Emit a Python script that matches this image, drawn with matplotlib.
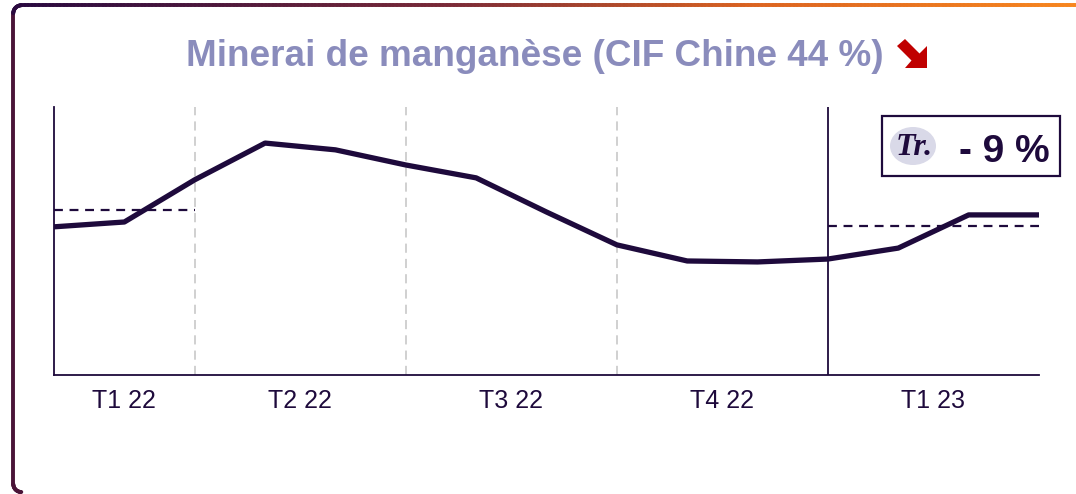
import numpy as np
import matplotlib
matplotlib.use("Agg")
import matplotlib.pyplot as plt
from matplotlib.collections import LineCollection
from matplotlib.colors import LinearSegmentedColormap
from matplotlib.patches import Rectangle, Ellipse, Polygon

plt.rcParams['font.family'] = ['Liberation Sans', 'DejaVu Sans']

# prix mensuels (USD/dmtu), janv. 22 -> mars 23
mois = ['J', 'F', 'M', 'A', 'M', 'J', 'J', 'A', 'S', 'O', 'N', 'D', 'J', 'F', 'M']
prix = [4.60, 4.75, 6.06, 7.20, 6.99, 6.52, 6.12, 5.06, 4.04, 3.54, 3.51, 3.60, 3.94, 4.97, 4.97]
trimestres = ['T1 22', 'T2 22', 'T3 22', 'T4 22', 'T1 23']
trim_centres = [1, 3.5, 6.5, 9.5, 12.5]
separations = [2, 5, 8]
titre = "Minerai de manganèse (CIF Chine 44 %)"
tendance = "- 9 %"

FONCE = '#1e0a3c'
W, H = 1076, 494

fig = plt.figure(figsize=(W / 100, H / 100), dpi=100)
ax = fig.add_axes([54 / W, 1 - 375 / H, (1039 - 54) / W, (375 - 107) / H])

x = np.arange(len(prix))
ax.plot(x, prix, color=FONCE, lw=3.8, solid_capstyle='round', solid_joinstyle='round', zorder=5)

# moyennes trimestrielles T1 22 et T1 23
moy_t1_22 = np.mean(prix[0:3])
moy_t1_23 = np.mean(prix[12:15])
ax.plot([0, 2], [moy_t1_22, moy_t1_22], color=FONCE, lw=1.6, ls=(0, (4, 3)), zorder=4)
ax.plot([11, 14], [moy_t1_23, moy_t1_23], color=FONCE, lw=1.6, ls=(0, (4, 3)), zorder=4)

for s in separations:
    ax.axvline(s, color='#c4c4c4', lw=1.1, ls=(0, (6, 4)), zorder=1)
ax.axvline(11, color=FONCE, lw=1.3, zorder=2)

ax.set_xlim(0, 14)
ax.set_ylim(0, 8.32)
ax.set_yticks([])
ax.set_xticks(trim_centres)
ax.set_xticklabels(trimestres, fontsize=18, color=FONCE)
ax.tick_params(axis='x', length=0, pad=10)
for side in ['top', 'right']:
    ax.spines[side].set_visible(False)
for side in ['left', 'bottom']:
    ax.spines[side].set_color(FONCE)
    ax.spines[side].set_linewidth(1.3)

# calque de décor en pixels
deco = fig.add_axes([0, 0, 1, 1], facecolor='none')
deco.set_xlim(0, W)
deco.set_ylim(H, 0)
deco.axis('off')

# cadre arrondi avec dégradé
r = 8
xl, yt, yb = 13.3, 5.3, 492
a_bas = np.linspace(np.pi / 2, np.pi, 20)
a_haut = np.linspace(np.pi, 1.5 * np.pi, 20)
bas = np.column_stack([xl + r + r * np.cos(a_bas), yb - r + r * np.sin(a_bas)])
haut = np.column_stack([xl + r + r * np.cos(a_haut), yt + r + r * np.sin(a_haut)])
fin = np.linspace(xl + r, W + 5, 300)[1:]
pts = np.vstack([bas, haut, np.column_stack([fin, np.full_like(fin, yt)])])
segs = np.stack([pts[:-1], pts[1:]], axis=1)
d = np.concatenate([[0], np.cumsum(np.hypot(*np.diff(pts, axis=0).T))])[:-1]
coin = d[len(bas) + len(haut) - 1]
val = np.where(d < coin, 0.08 * d / coin, 0.08 + 0.92 * (d - coin) / (d[-1] - coin))
cmap = LinearSegmentedColormap.from_list('cadre', [(0, '#4a1438'), (0.08, '#2a0a40'), (0.45, '#7a2a38'),
                                                   (0.72, '#dc6420'), (1, '#f7861f')])
lc = LineCollection(segs, array=val, cmap=cmap, lw=2.8, capstyle='round')
lc.set_clim(0, 1)
deco.add_collection(lc)

# titre et flèche
deco.text(535, 66, titre, fontsize=26.6, fontweight='bold', color='#8a8cbc', ha='center', va='baseline')
fleche = [(897, 46), (911.5, 60.5), (905, 68), (927, 68), (927, 46), (919.5, 53.5), (905, 39)]
deco.add_patch(Polygon(fleche, closed=True, color='#c00000', lw=0))

# encadré tendance
deco.add_patch(Rectangle((882, 116), 178, 60, fill=True, facecolor='white', edgecolor=FONCE, lw=1.6, zorder=3))
deco.add_patch(Ellipse((913, 146), 46, 38, facecolor='#d9d9e8', edgecolor='none', zorder=4))
deco.text(914, 147, "Tr.", fontsize=23, fontweight='bold', fontstyle='italic', family='Liberation Serif',
          color=FONCE, ha='center', va='center', zorder=5)
deco.text(1004, 152, tendance, fontsize=28, fontweight='bold', color=FONCE, ha='center', va='center', zorder=5)

fig.savefig('out.png', dpi=100)
